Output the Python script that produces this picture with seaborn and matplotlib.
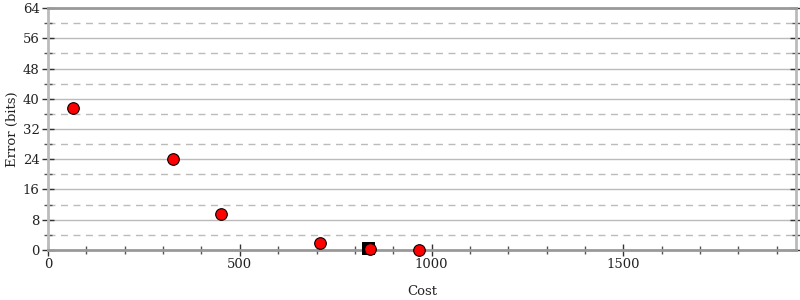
import matplotlib
matplotlib.use("Agg")
import matplotlib.pyplot as plt
import seaborn as sns
import pandas as pd
from matplotlib.ticker import MultipleLocator

cost = [65, 326, 451, 710, 839, 966]
error_bits = [37.6, 24.1, 9.5, 1.8, 0.3, 0.1]
start_cost = [834]
start_error = [0.5]

sns.set_theme(style="white")
plt.rcParams['font.family'] = ['DejaVu Serif']

fig = plt.figure(figsize=(8, 3), dpi=100)
ax = fig.add_axes([0.06, 0.167, 0.935, 0.806])

# gridlines
for y in range(8, 64, 8):
    ax.axhline(y, color="#bbbbbb", lw=1, zorder=0)
for y in range(4, 64, 8):
    ax.axhline(y, color="#bbbbbb", lw=1, ls=(0, (5, 4)), zorder=0)

df_start = pd.DataFrame({"cost": start_cost, "err": start_error})
df = pd.DataFrame({"cost": cost, "err": error_bits})
sns.scatterplot(data=df_start, x="cost", y="err", marker="s", s=80,
                color="black", edgecolor="black", ax=ax, zorder=3, clip_on=False)
sns.scatterplot(data=df, x="cost", y="err", marker="o", s=70,
                color="#ff0000", edgecolor="black", linewidth=0.8, ax=ax,
                zorder=4, clip_on=False)

ax.set_xlim(0, 1950)
ax.set_ylim(0, 64)
ax.xaxis.set_major_locator(MultipleLocator(500))
ax.xaxis.set_minor_locator(MultipleLocator(100))
ax.yaxis.set_major_locator(MultipleLocator(8))
ax.yaxis.set_minor_locator(MultipleLocator(4))

ax.tick_params(axis="both", which="major", direction="inout", length=8,
               width=1, color="#333333", labelsize=9.5, labelcolor="#222222",
               pad=2)
ax.tick_params(axis="both", which="minor", direction="inout", length=6,
               width=1, color="#555555")
ax.tick_params(axis="y", which="both", right=True, left=True)
ax.tick_params(axis="x", which="both", bottom=True, top=False)

for side in ["left", "right"]:
    ax.spines[side].set_color("#bbbbbb")
    ax.spines[side].set_linewidth(2)
for side in ["top", "bottom"]:
    ax.spines[side].set_color("#999999")
    ax.spines[side].set_linewidth(2)

ax.set_xlabel("Cost", fontsize=9.5, color="#222222", labelpad=10)
ax.set_ylabel("Error (bits)", fontsize=9.5, color="#222222", labelpad=3)

fig.savefig("out.png", dpi=100)
